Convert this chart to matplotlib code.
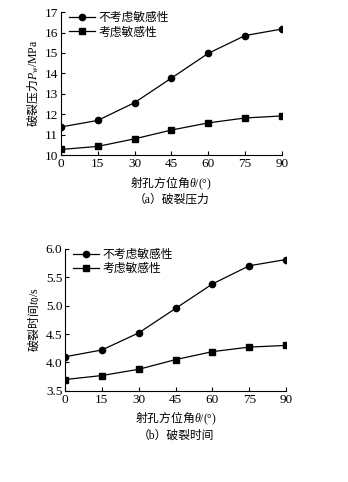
import matplotlib
matplotlib.use("Agg")
import matplotlib.pyplot as plt

plt.rcParams["font.family"] = ["Liberation Serif", "Noto Sans CJK SC"]
plt.rcParams["mathtext.fontset"] = "custom"
plt.rcParams["mathtext.rm"] = "Noto Sans CJK SC"
plt.rcParams["mathtext.sf"] = "Liberation Serif"
plt.rcParams["mathtext.it"] = "Liberation Serif:italic"
plt.rcParams["mathtext.bf"] = "Liberation Serif:bold"

angles = [0, 15, 30, 45, 60, 75, 90]
angle_ticks = [0, 15, 30, 45, 60, 75, 90]

# breakdown pressure, MPa
pw_no_sens = [11.38, 11.70, 12.57, 13.77, 14.98, 15.85, 16.17]
pw_sens = [10.28, 10.43, 10.80, 11.23, 11.58, 11.82, 11.92]

# breakdown time, s
t0_no_sens = [4.10, 4.22, 4.52, 4.95, 5.38, 5.70, 5.81]
t0_sens = [3.70, 3.77, 3.88, 4.05, 4.19, 4.27, 4.30]

label_no = "不考虑敏感性"
label_yes = "考虑敏感性"


def draw_panel(ax, y1, y2, ylim, yticks, yfmt, ylabel, caption):
    ax.plot(angles, y1, color="black", lw=0.9, marker="o", ms=4.5, label=label_no)
    ax.plot(angles, y2, color="black", lw=0.9, marker="s", ms=4, label=label_yes)
    ax.set_xlim(0, 90)
    ax.set_ylim(*ylim)
    ax.set_xticks(angle_ticks)
    ax.set_yticks(yticks)
    ax.set_yticklabels([yfmt.format(v) for v in yticks])
    for s in ["top", "right"]:
        ax.spines[s].set_visible(False)
    ax.tick_params(direction="in", length=3, width=0.8, labelsize=9.5, pad=2)
    ax.set_xlabel("$\\mathrm{射孔方位角}\\theta\\mathsf{/(°)}$", fontsize=8.5, labelpad=3)
    ax.set_ylabel(ylabel, fontsize=8.5, labelpad=3)
    ax.legend(loc="upper left", frameon=False, fontsize=8.5, handlelength=2.2,
              borderaxespad=0.1, labelspacing=0.2, handletextpad=0.3,
              bbox_to_anchor=(0.01, 1.04))
    ax.text(0.5, -0.27, caption, transform=ax.transAxes, ha="center",
            va="top", fontsize=8.5)


fig = plt.figure(figsize=(3.48, 4.82), dpi=100)
ax1 = fig.add_axes([0.175, 0.678, 0.635, 0.297])
ax2 = fig.add_axes([0.187, 0.189, 0.635, 0.295])

draw_panel(ax1, pw_no_sens, pw_sens, (10, 17), list(range(10, 18)), "{:d}",
           "$\\mathrm{破裂压力}P_w\\mathsf{/MPa}$", "（a）破裂压力")
draw_panel(ax2, t0_no_sens, t0_sens, (3.5, 6.0), [3.5, 4.0, 4.5, 5.0, 5.5, 6.0],
           "{:.1f}", "$\\mathrm{破裂时间}t_0\\mathsf{/s}$", "（b）破裂时间")

fig.savefig("out.png", dpi=100)
